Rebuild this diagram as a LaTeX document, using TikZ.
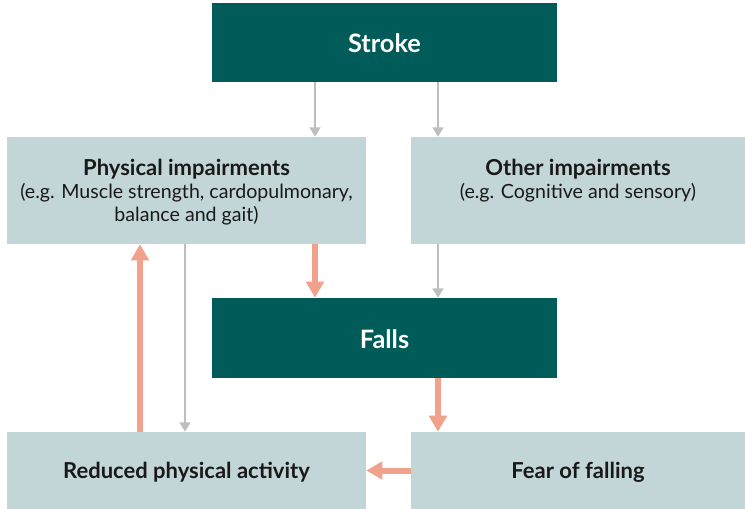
\documentclass[tikz,border=0pt]{standalone}
\usepackage{fontspec}
\setmainfont{Lato}
\usepackage{tikz}
\usetikzlibrary{arrows.meta}

\definecolor{darkteal}{HTML}{005B59}
\definecolor{paleteal}{HTML}{C3D6D7}
\definecolor{salmon}{HTML}{F0A28C}
\definecolor{greyline}{HTML}{BDBEBE}

\newcommand{\headfont}{\fontsize{16.5}{17.6}\selectfont\bfseries}
\tikzset{
  darkbox/.style={fill=darkteal, text=white, font=\fontsize{19}{22}\selectfont\bfseries, inner sep=0pt, align=center, text height=15.75pt, text depth=0pt},
  palebox/.style={fill=paleteal, text=black!90, font=\fontsize{14.7}{17.6}\selectfont, inner sep=0pt, align=center, text depth=0pt},
  singlebox/.style={palebox, font=\headfont, text height=11.25pt},
  greyarrow/.style={draw=greyline, line width=2.2pt, -{Triangle[length=7pt,width=8pt]}},
  salmonarrow/.style={draw=salmon, line width=4.5pt, -{Triangle[length=12pt,width=13pt]}}
}

\begin{document}
\begin{tikzpicture}[x=0.75pt,y=0.75pt,yscale=-1,xscale=1]
    \useasboundingbox (0,0) rectangle (745,509);

    %Boxes
    \node [darkbox, minimum width=258.75pt, minimum height=59.25pt] (stroke) at (384.5,42.5) {Stroke};
    \node [palebox, text height=47.25pt, minimum width=269.25pt, minimum height=80.25pt] (physical) at (186.5,190.5) {{\headfont Physical impairments}\\(e.g. Muscle strength, cardopulmonary,\\balance and gait)};
    \node [palebox, text height=12.75pt, minimum width=250.5pt, minimum height=80.25pt] (other) at (578,190.5) {{\headfont Other impairments}\\(e.g. Cognitive and sensory)};
    \node [darkbox, minimum width=258.75pt, minimum height=60pt] (falls) at (384.5,338) {Falls};
    \node [singlebox, minimum width=269.25pt, minimum height=57.75pt] (reduced) at (186.5,470.5) {Reduced physical activity};
    \node [singlebox, minimum width=250.5pt, minimum height=57.75pt] (fear) at (578,470.5) {Fear of falling};

    %Arrow columns
    \coordinate (colL) at (315,0);
    \coordinate (colR) at (438,0);
    \coordinate (colUp) at (140,0);
    \coordinate (colDown) at (185,0);

    %Connectors
    \draw [greyarrow] (stroke.south -| colL) -- (physical.north -| colL);
    \draw [greyarrow] (stroke.south -| colR) -- (other.north -| colR);
    \draw [salmonarrow] (physical.south -| colL) -- (falls.north -| colL);
    \draw [greyarrow] (other.south -| colR) -- (falls.north -| colR);
    \draw [salmonarrow] (falls.south -| colR) -- (fear.north -| colR);
    \draw [salmonarrow] (fear.west) -- (reduced.east);
    \draw [salmonarrow] (reduced.north -| colUp) -- (physical.south -| colUp);
    \draw [greyarrow] (physical.south -| colDown) -- (reduced.north -| colDown);

\end{tikzpicture}
\end{document}
